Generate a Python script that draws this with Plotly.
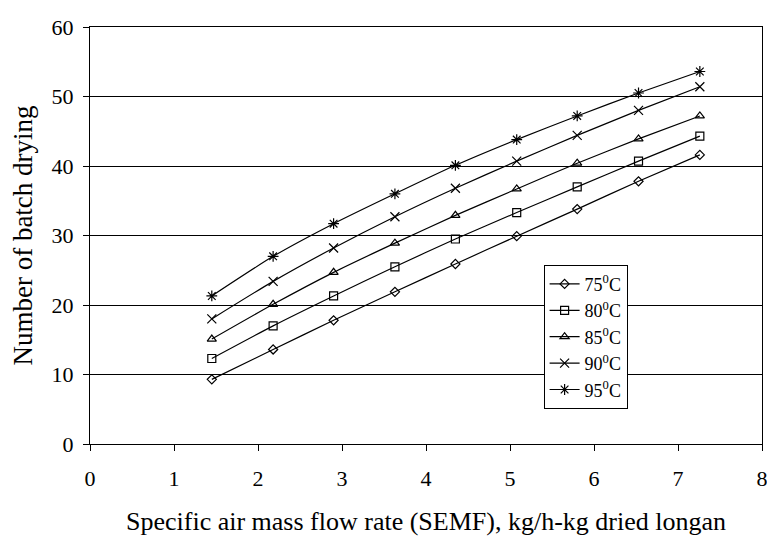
import plotly.graph_objects as go

semf = [1.45, 2.18, 2.90, 3.63, 4.35, 5.08, 5.80, 6.53, 7.26]
series_names = ["75<sup>0</sup>C", "80<sup>0</sup>C", "85<sup>0</sup>C", "90<sup>0</sup>C", "95<sup>0</sup>C"]
t75 = [9.3, 13.6, 17.8, 21.9, 25.9, 29.9, 33.8, 37.8, 41.6]
t80 = [12.3, 17.0, 21.3, 25.5, 29.5, 33.3, 37.0, 40.7, 44.3]
t85 = [15.1, 20.1, 24.7, 28.9, 32.9, 36.7, 40.4, 43.9, 47.2]
t90 = [18.0, 23.4, 28.2, 32.7, 36.8, 40.7, 44.4, 48.0, 51.4]
t95 = [21.3, 27.0, 31.7, 36.0, 40.1, 43.8, 47.2, 50.5, 53.6]
x_ticks = [0, 1, 2, 3, 4, 5, 6, 7, 8]
y_ticks = [0, 10, 20, 30, 40, 50, 60]

symbols = ["diamond-open", "square-open", "triangle-up-open", "x-thin-open", "asterisk-open"]
sizes = [7, 8, 8, 9, 9]

fig = go.Figure()
for name, ys, sym, sz in zip(series_names, [t75, t80, t85, t90, t95], symbols, sizes):
    fig.add_trace(go.Scatter(
        x=semf, y=ys, name=name, mode="lines+markers",
        line=dict(color="black", width=1.2, shape="spline", smoothing=0.6),
        marker=dict(symbol=sym, size=sz, color="black", line=dict(color="black", width=1.2)),
    ))

font_family = "Liberation Serif, Times New Roman, serif"
# the page body adds an 8px margin, so the figure is 8px smaller than the window
fig.update_layout(
    width=767, height=530,
    margin=dict(l=80, r=7, t=9, b=93),
    paper_bgcolor="white", plot_bgcolor="white",
    font=dict(family=font_family, size=22, color="black"),
    showlegend=True,
    legend=dict(
        x=0.675, y=0.43, xanchor="left", yanchor="top",
        bgcolor="white", bordercolor="black", borderwidth=1,
        font=dict(family=font_family, size=18, color="black"),
        tracegroupgap=0, itemwidth=30,
    ),
    xaxis=dict(
        range=[0, 8], tickvals=x_ticks, ticktext=[str(v) for v in x_ticks],
        showgrid=False, zeroline=False,
        showline=True, linecolor="black", linewidth=1, mirror=True,
        ticks="outside", ticklen=6, tickcolor="black",
        tickfont=dict(size=22), ticklabelstandoff=9, ticklabeloverflow="allow",
        title=dict(text="Specific air mass flow rate (SEMF), kg/h-kg dried longan", font=dict(size=26), standoff=21),
    ),
    yaxis=dict(
        range=[0, 60], tickvals=y_ticks, ticktext=[str(v) for v in y_ticks],
        showgrid=True, gridcolor="black", gridwidth=1, zeroline=False,
        showline=True, linecolor="black", linewidth=1, mirror=True,
        ticks="outside", ticklen=6, tickcolor="black",
        tickfont=dict(size=22), ticklabelstandoff=5, ticklabeloverflow="allow",
        title=dict(text="Number of batch drying", font=dict(size=27), standoff=18),
    ),
)

fig.write_html("out.html")
